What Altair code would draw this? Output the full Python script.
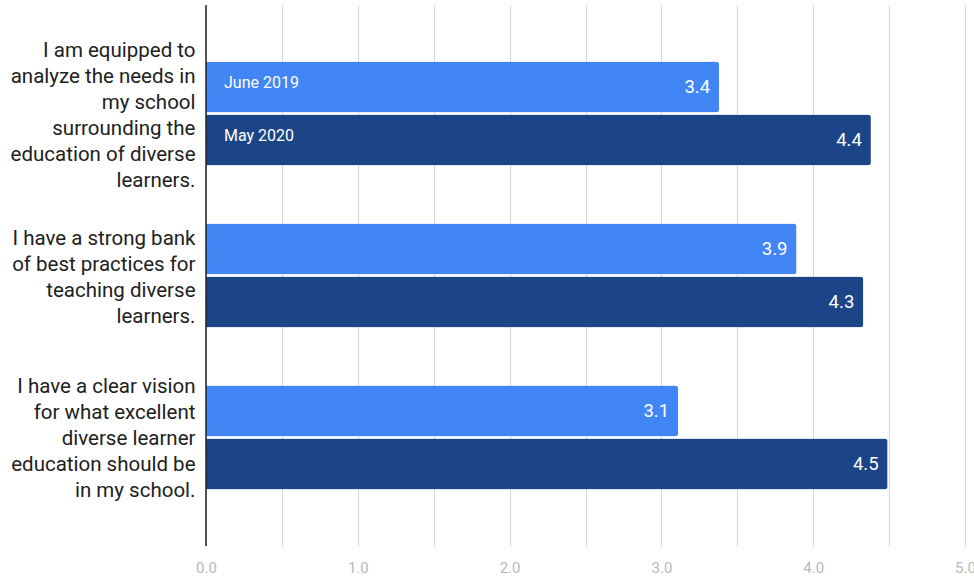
import altair as alt
import pandas as pd

questions = [
    "I am equipped to\nanalyze the needs in\nmy school\nsurrounding the\neducation of diverse\nlearners.",
    "\nI have a strong bank\nof best practices for\nteaching diverse\nlearners.\n",
    "I have a clear vision\nfor what excellent\ndiverse learner\neducation should be\nin my school.",
]
series = ["June 2019", "May 2020"]
june_2019 = [3.38, 3.89, 3.11]
may_2020 = [4.38, 4.33, 4.49]
colors = ["#4285F4", "#1C4587"]
x_ticks = [0, 0.5, 1, 1.5, 2, 2.5, 3, 3.5, 4, 4.5, 5]

rows = []
for i, q in enumerate(questions):
    rows.append({"question": q, "series": series[0], "value": june_2019[i], "first": i == 0})
    rows.append({"question": q, "series": series[1], "value": may_2020[i], "first": i == 0})
df = pd.DataFrame(rows)

y_enc = alt.Y(
    "question:N",
    sort=questions,
    scale=alt.Scale(paddingInner=0.358, paddingOuter=0.349),
    axis=alt.Axis(
        title=None,
        domain=False,
        ticks=False,
        labelExpr="split(datum.label, '\\n')",
        labelFont="Roboto",
        labelFontSize=20.5,
        labelColor="#212121",
        labelLineHeight=26,
        labelPadding=11,
        labelLimit=260,
        labelAlign="right",
        labelBaseline="middle",
        labelOffset={
            "condition": {"test": "indexof(datum.value, 'clear vision') >= 0", "value": -50},
            "value": -63,
        },
    ),
)
yoff_enc = alt.YOffset("series:N", sort=series, scale=alt.Scale(paddingInner=0.04))
x_enc = alt.X(
    "value:Q",
    scale=alt.Scale(domain=[0, 5], nice=False),
    axis=alt.Axis(
        title=None,
        values=x_ticks,
        labelExpr="datum.value % 1 === 0 ? format(datum.value, '.1f') : ''",
        domain=False,
        ticks=False,
        grid=True,
        gridColor="#d6d6d6",
        gridWidth=1,
        labelFont="Roboto",
        labelFontSize=15,
        labelColor="#b8b8b8",
        labelPadding=14,
        labelFlush=False,
    ),
)

base = alt.Chart(df)

bars = base.mark_bar(cornerRadiusEnd=3).encode(
    x=x_enc,
    y=y_enc,
    yOffset=yoff_enc,
    color=alt.Color("series:N", sort=series, scale=alt.Scale(domain=series, range=colors), legend=None),
)

values = base.mark_text(align="right", baseline="middle", dx=-9, color="white", font="Roboto", fontSize=18.5).encode(
    x="value:Q",
    y=alt.Y("question:N", sort=questions),
    yOffset=alt.YOffset("series:N", sort=series),
    text=alt.Text("value:Q", format=".1f"),
)

names = base.transform_filter("datum.first").mark_text(
    align="left", baseline="middle", dy=-4, color="white", font="Roboto", fontSize=16
).encode(
    x=alt.value(18),
    y=alt.Y("question:N", sort=questions),
    yOffset=alt.YOffset("series:N", sort=series),
    text="series:N",
)

zero = alt.Chart(pd.DataFrame({"z": [0]})).mark_rule(color="#222222", strokeWidth=1.5).encode(x="z:Q")

chart = (
    alt.layer(bars, values, names, zero)
    .properties(
        width=759,
        height=541,
        autosize=alt.AutoSizeParams(type="none"),
        padding={"left": 206, "top": 5, "right": 9, "bottom": 31},
        background="white",
    )
    .configure_view(stroke=None)
)

chart.save("out.html", embed_options={"renderer": "svg", "actions": False})
